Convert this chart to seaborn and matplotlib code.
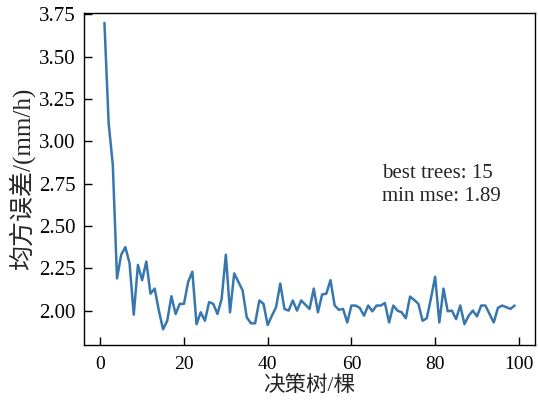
import matplotlib
matplotlib.use("Agg")
import matplotlib.pyplot as plt
import seaborn as sns
import numpy as np
import pandas as pd

trees = list(range(1, 100))
mse = [
    3.70, 3.11, 2.86, 2.19, 2.33, 2.375, 2.28, 1.976, 2.27, 2.18,
    2.29, 2.10, 2.13, 2.00, 1.89, 1.94, 2.085, 1.98, 2.04, 2.04,
    2.17, 2.23, 1.92, 1.99, 1.94, 2.05, 2.04, 1.98, 2.07, 2.33,
    1.99, 2.22, 2.17, 2.12, 1.96, 1.925, 1.925, 2.06, 2.04, 1.915,
    1.97, 2.02, 2.16, 2.01, 2.00, 2.06, 2.00, 2.06, 2.035, 2.01,
    2.13, 1.99, 2.095, 2.10, 2.18, 2.03, 2.005, 2.01, 1.93, 2.03,
    2.03, 2.016, 1.97, 2.03, 1.996, 2.03, 2.03, 2.045, 1.93, 2.03,
    2.00, 1.99, 1.955, 2.083, 2.063, 2.04, 1.94, 1.955, 2.073, 2.20,
    1.93, 2.13, 1.996, 2.00, 1.95, 2.03, 1.92, 1.97, 2.00, 1.966,
    2.03, 2.03, 1.98, 1.93, 2.016, 2.03, 2.02, 2.01, 2.03,
]
best_trees = 15
min_mse = 1.89
xticks = [0, 20, 40, 60, 80, 100]
yticks = [2.00, 2.25, 2.50, 2.75, 3.00, 3.25, 3.50, 3.75]
xlabel = "决策树/棵"
ylabel = "均方误差/(mm/h)"

sns.set_style("white")
fam = ["Liberation Serif", "Noto Sans CJK SC", "DejaVu Sans"]
plt.rcParams["font.family"] = fam

df = pd.DataFrame({"trees": trees, "mse": mse})

fig = plt.figure(figsize=(5.38, 4.01), dpi=100)
ax = fig.add_axes([0.156, 0.1397, 0.838, 0.8286])
sns.lineplot(data=df, x="trees", y="mse", ax=ax, color="#3777ae", linewidth=1.8)

ax.set_xlim(-3.9, 103.8)
ax.set_ylim(1.797, 3.76)
ax.set_xticks(xticks)
ax.set_yticks(yticks)
ax.set_xticklabels([str(t) for t in xticks])
ax.set_yticklabels([f"{t:.2f}" for t in yticks])
ax.tick_params(axis="both", direction="in", length=6, width=1, labelsize=14,
               colors="black", top=False, right=False, bottom=True, left=True, pad=5)
ax.tick_params(axis="x", pad=8)
ax.tick_params(axis="y", labelsize=15, pad=6)
for s in ax.spines.values():
    s.set_visible(True)
    s.set_color("black")
    s.set_linewidth(1.0)

ax.set_xlabel(xlabel, fontsize=15.5, family=fam, labelpad=2)
ax.set_ylabel(ylabel, fontsize=18, family=fam, labelpad=3)

ax.text(67.2, 2.74, f"best trees: {best_trees}\nmin mse: {min_mse:.2f}",
        fontsize=15, family=fam, ha="left", va="center", linespacing=1.3)

fig.savefig("out.png", dpi=100)
